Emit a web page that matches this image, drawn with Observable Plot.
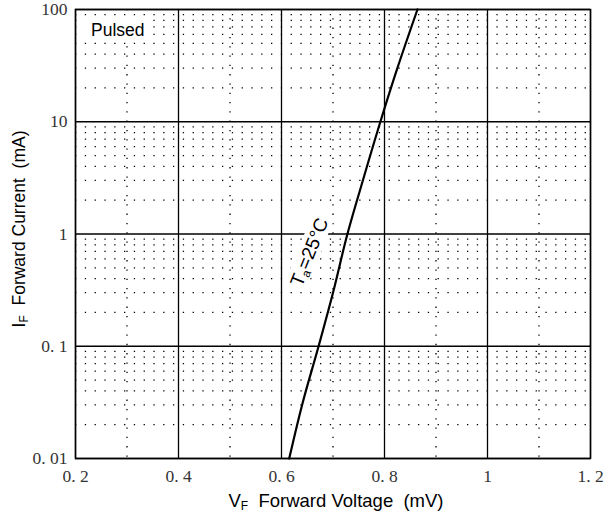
<!DOCTYPE html>
<html><head><meta charset="utf-8">
<script src="https://cdn.jsdelivr.net/npm/d3@7"></script>
<script src="https://cdn.jsdelivr.net/npm/@observablehq/plot@0.6"></script>
<style>body{margin:0;background:#fff}</style>
</head><body><div id="chart"></div>
<script>
const vf = [0.615, 0.640, 0.672, 0.700, 0.728, 0.758, 0.792, 0.825, 0.864];
const iF = [0.01, 0.03, 0.1, 0.3, 1, 3, 10, 30, 100];
const xMajor = [0.2, 0.4, 0.6, 0.8, 1.0, 1.2];
const xMajorLabels = ["0. 2", "0. 4", "0. 6", "0. 8", "1", "1. 2"];
const xMinor = [0.3, 0.5, 0.7, 0.9, 1.1];
const yMajor = [0.01, 0.1, 1, 10, 100];
const yMajorLabels = ["0. 01", "0. 1", "1", "10", "100"];
const yMinor = [];
for (const d of [0.01, 0.1, 1, 10]) for (let k = 2; k <= 9; k++) yMinor.push(+(d * k).toPrecision(3));

const curve = vf.map((v, i) => ({v, i: iF[i]}));
const serif = "'Liberation Serif', 'DejaVu Serif', serif";
const sans = "'Liberation Sans', Arial, sans-serif";

const chart = Plot.plot({
  width: 604, height: 518,
  marginLeft: 75, marginRight: 14, marginTop: 9, marginBottom: 60,
  style: {background: "#fff", fontFamily: serif},
  x: {type: "linear", domain: [0.2, 1.2], axis: null},
  y: {type: "log", domain: [0.01, 100], axis: null},
  marks: [
    Plot.ruleX(xMinor, {stroke: "#000", strokeWidth: 1.3, strokeDasharray: "1.3,8"}),
    Plot.ruleY(yMinor, {stroke: "#000", strokeWidth: 1.3, strokeDasharray: "1.3,8.5"}),
    Plot.ruleX(xMajor, {stroke: "#000", strokeWidth: 1.3}),
    Plot.ruleY(yMajor, {stroke: "#000", strokeWidth: 1.3}),
    Plot.frame({stroke: "#000", strokeWidth: 1.5}),
    Plot.line(curve, {x: "v", y: "i", stroke: "#000", strokeWidth: 2.2, curve: "monotone-y"}),
    Plot.text(xMajor, {x: d => d, frameAnchor: "bottom", lineAnchor: "bottom", dy: 23, text: (d, i) => xMajorLabels[i], fontSize: 17.5, fontFamily: serif, fill: "#333"}),
    Plot.text(yMajor, {y: d => d, frameAnchor: "left", dx: -8, textAnchor: "end", text: (d, i) => yMajorLabels[i], fontSize: 17.5, fontFamily: serif, fill: "#333"})
  ]
});
document.getElementById("chart").appendChild(chart);

const svg = d3.select(chart);
// Pulsed label
svg.append("rect").attr("x", 83).attr("y", 17).attr("width", 66).attr("height", 23).attr("fill", "#fff").attr("stroke", "none");
svg.append("text").attr("x", 91).attr("y", 36).attr("text-anchor", "start").attr("font-family", sans).attr("font-size", 17.5).attr("fill", "#000").text("Pulsed");

// Ta label
const g = svg.append("g").attr("transform", "translate(309,252) rotate(-68)");
g.append("rect").attr("x", -40).attr("y", -11).attr("width", 80).attr("height", 22).attr("fill", "#fff").attr("stroke", "none");
const t = g.append("text").attr("text-anchor", "middle").attr("dy", "0.35em").attr("font-family", sans).attr("font-size", 19).attr("fill", "#000");
t.append("tspan").text("T");
t.append("tspan").attr("font-size", 12).attr("dy", 3).text("a");
t.append("tspan").attr("dy", -3).text("=25°C");

// X axis label
const xl = svg.append("text").attr("x", 336).attr("y", 507).attr("text-anchor", "middle").attr("font-family", sans).attr("font-size", 18.5).attr("fill", "#000");
xl.append("tspan").text("V");
xl.append("tspan").attr("font-size", 12).attr("dy", 3).text("F");
xl.append("tspan").attr("dy", -3).text("\u00a0 Forward Voltage \u00a0(mV)");

// Y axis label
const yl = svg.append("text").attr("transform", "translate(25,229) rotate(-90)").attr("text-anchor", "middle").attr("font-family", sans).attr("font-size", 17.5).attr("fill", "#000");
yl.append("tspan").text("I");
yl.append("tspan").attr("font-size", 12).attr("dy", 3).text("F");
yl.append("tspan").attr("dy", -3).text("\u00a0 Forward Current \u00a0(mA)");
</script>
</body></html>
